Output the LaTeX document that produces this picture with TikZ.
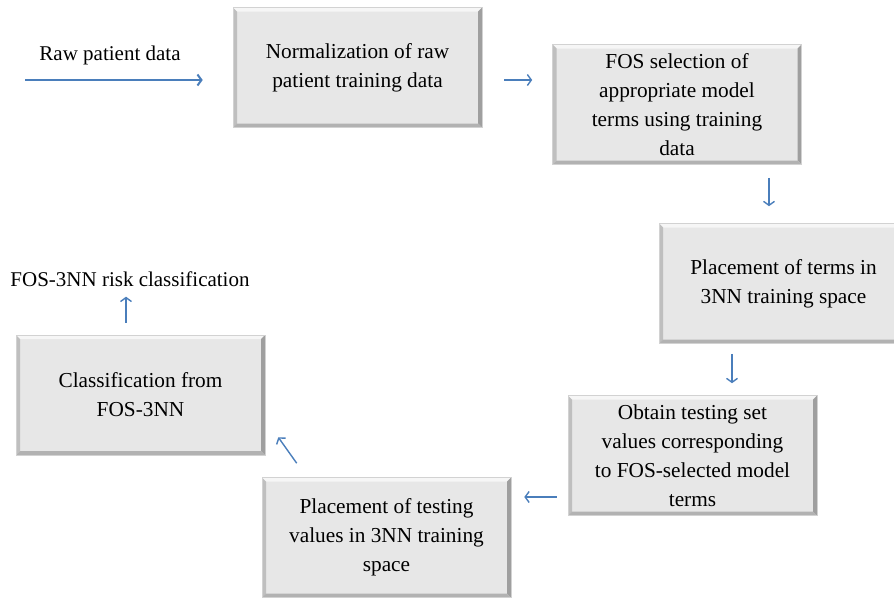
\documentclass[tikz,border=0pt]{standalone}
\usepackage{fontspec}
\setmainfont{Liberation Serif}
\usepackage{xcolor}
\usepackage{tikz}
\usetikzlibrary{arrows.meta}

\definecolor{flowblue}{HTML}{4A7EBB}
\definecolor{boxgrey}{HTML}{E7E7E7}

\tikzset{
  stepbox/.style={rectangle, minimum width=249pt, minimum height=120pt, fill=boxgrey,
    draw=gray!35, line width=0.6pt, align=center, font=\fontsize{21.3}{29}\selectfont,
    path picture={
      \fill[white!93!gray] (path picture bounding box.north west) -- (path picture bounding box.north east)
        -- ([shift={(-4pt,-4pt)}]path picture bounding box.north east) -- ([shift={(4pt,-4pt)}]path picture bounding box.north west) -- cycle;
      \fill[gray!50] (path picture bounding box.north west) -- (path picture bounding box.south west)
        -- ([shift={(4pt,4pt)}]path picture bounding box.south west) -- ([shift={(4pt,-4pt)}]path picture bounding box.north west) -- cycle;
      \fill[gray!75] (path picture bounding box.north east) -- (path picture bounding box.south east)
        -- ([shift={(-4pt,4pt)}]path picture bounding box.south east) -- ([shift={(-4pt,-4pt)}]path picture bounding box.north east) -- cycle;
      \fill[gray!60] (path picture bounding box.south west) -- (path picture bounding box.south east)
        -- ([shift={(-4pt,4pt)}]path picture bounding box.south east) -- ([shift={(4pt,4pt)}]path picture bounding box.south west) -- cycle;
    }},
  label/.style={font=\fontsize{21}{29}\selectfont, inner sep=2pt},
  flow/.style={draw=flowblue, line width=1.4pt, -{Straight Barb[length=4pt,width=11pt]}}
}

\begin{document}
\begin{tikzpicture}[x=1pt, y=-1pt]
    \useasboundingbox (0,0) rectangle (894,598);
		\node at (110,55) [label] (input) {Raw patient data};
		\coordinate (start) at (25,80);
         \node at (357.5,67.5) [stepbox] (s100) {Normalization of raw\\ patient training data};
        \node at (677,104.5) [stepbox] (s200) {FOS selection of\\ appropriate model\\ terms using training\\ data};
        \node at (783.5,283.5) [stepbox] (s300) {Placement of terms in\\ 3NN training space};
        \node at (692.5,455.5) [stepbox] (s400) {Obtain testing set\\ values corresponding\\ to FOS-selected model\\ terms};
        \node at (386.5,537.5) [stepbox] (s500) {Placement of testing\\ values in 3NN training\\ space};
        \node at (140.5,395) [stepbox] (s600) {Classification from\\ FOS-3NN};
		\node at (130,279) [label] (output) {FOS-3NN risk classification};
        \draw[flow, line width=2pt, shorten >=30pt] (start) -- (start -| s100.west);
        \draw[flow, shorten <=22pt, shorten >=20pt] ([yshift=-12.5pt]s100.east) -- ([yshift=-12.5pt]s100.east -| s200.west);
        \draw[flow, shorten <=13pt, shorten >=17pt] ([xshift=-14.5pt]s300.north |- s200.south) -- ([xshift=-14.5pt]s300.north);
        \draw[flow, shorten <=10pt, shorten >=12pt] ([xshift=39.5pt]s400.north |- s300.south) -- ([xshift=39.5pt]s400.north);
        \draw[flow, shorten <=11pt, shorten >=13pt] ([yshift=40.5pt]s500.east -| s400.west) -- ([yshift=40.5pt]s500.east);
        \draw[flow] ([shift={(35pt,14pt)}]s500.north west) -- ([shift={(13pt,18pt)}]s600.south east);
        \draw[flow, shorten <=12pt, shorten >=8pt] ([xshift=-14.5pt]s600.north) -- ([xshift=-14.5pt]s600.north |- output.south);
    \end{tikzpicture}
\end{document}
